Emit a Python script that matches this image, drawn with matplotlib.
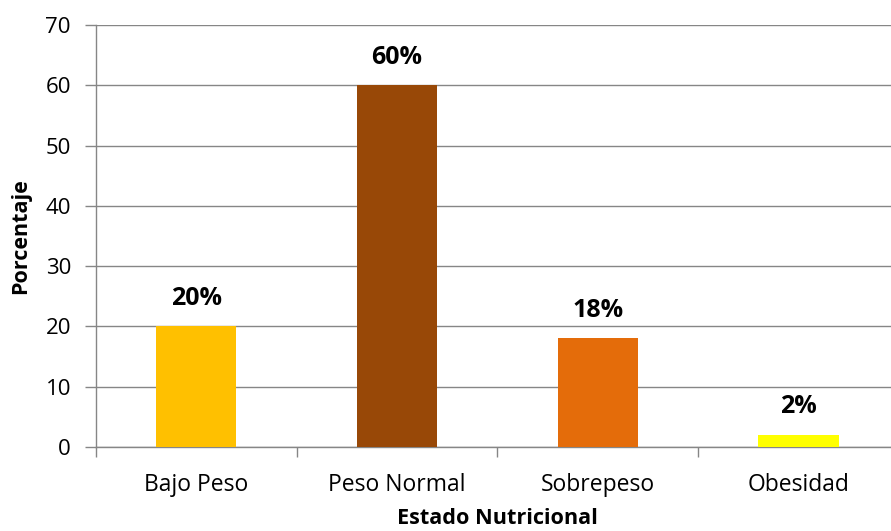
import matplotlib.pyplot as plt
from matplotlib.ticker import MultipleLocator

categorias = ['Bajo Peso', 'Peso Normal', 'Sobrepeso', 'Obesidad']
porcentajes = [20, 60, 18, 2]
etiquetas = ['20%', '60%', '18%', '2%']
colores = ['#FFC000', '#984807', '#E46C0A', '#FFFF00']

plt.rcParams['font.family'] = ['Open Sans', 'DejaVu Sans']
gris = '#868686'

fig = plt.figure(figsize=(8.91, 5.31), dpi=100)
ax = fig.add_axes([0.1077, 0.1582, 0.901, 0.7947])

x = list(range(len(categorias)))
barras = ax.bar(x, porcentajes, width=0.4, color=colores, zorder=3)

ax.set_xlim(-0.5, len(categorias) - 0.5)
ax.set_ylim(0, 70)
ax.yaxis.set_major_locator(MultipleLocator(10))
ax.grid(axis='y', color=gris, linewidth=1, zorder=0)

ax.set_xticks(x)
ax.set_xticklabels(categorias, fontsize=16.5)
ax.set_xticks([i - 0.5 for i in range(len(categorias) + 1)], minor=True)
ax.tick_params(axis='x', which='major', length=0, pad=19)
ax.tick_params(axis='x', which='minor', length=7, color=gris, width=1)
ax.tick_params(axis='y', length=8, color=gris, width=1, labelsize=16, pad=10)

for lado in ['top', 'right']:
    ax.spines[lado].set_visible(False)
for lado in ['left', 'bottom']:
    ax.spines[lado].set_color(gris)
    ax.spines[lado].set_linewidth(1)

for barra, txt in zip(barras, etiquetas):
    ax.annotate(txt, (barra.get_x() + barra.get_width() / 2, barra.get_height()),
                xytext=(0, 28), textcoords='offset pixels', ha='center', va='center',
                fontsize=18, fontweight='bold')

ax.set_ylabel('Porcentaje', fontsize=15.5, fontweight='bold', labelpad=10)
ax.set_xlabel('Estado Nutricional', fontsize=15.6, fontweight='bold', labelpad=8)

fig.savefig('out.png', dpi=100)
